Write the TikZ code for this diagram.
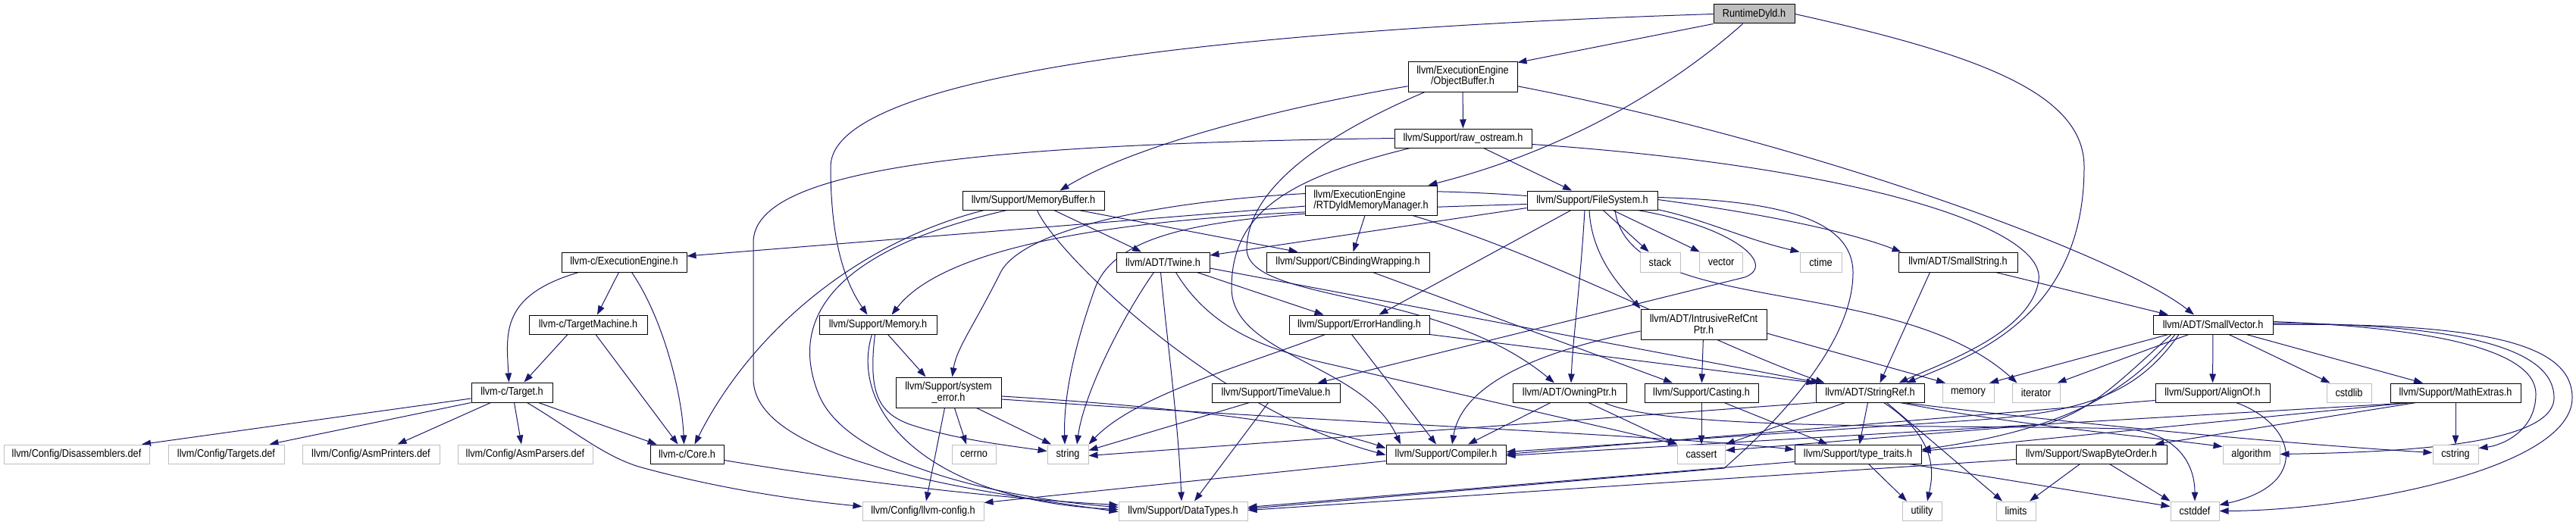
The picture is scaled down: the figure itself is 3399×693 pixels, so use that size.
\documentclass[tikz,border=0pt]{standalone}
\usepackage{fontspec}
\setmainfont{Liberation Sans}[FakeStretch=0.875]
\usetikzlibrary{arrows.meta}
\definecolor{edgec}{HTML}{191970}
\definecolor{extc}{HTML}{BFBFBF}
\definecolor{rootc}{HTML}{BFBFBF}
\pgfdeclarelayer{edgelayer}
\pgfsetlayers{edgelayer,main}
\begin{document}
\begin{tikzpicture}[x=1pt,y=-1pt,
 box/.style={rectangle, inner sep=0pt, minimum height=25pt, font=\fontsize{14.5}{14.5}\selectfont, fill=white},
 doc/.style={box, draw=black, line width=1pt},
 ext/.style={box, draw=extc, line width=1pt},
 rootn/.style={box, draw=black, fill=rootc, line width=1pt},
 dep/.style={draw=edgec, line width=1pt, -{Triangle[length=12pt,width=8.5pt]}},
]
\useasboundingbox (0,0) rectangle (3399,693);
% ---------- nodes ----------
\node[rootn, minimum width=107pt] (root) at (2314.5,18.5) {RuntimeDyld.h};
\node[doc, minimum width=144pt, minimum height=40pt, align=center] (objbuf) at (1930,101) {llvm/ExecutionEngine\\/ObjectBuffer.h};
\node[doc, minimum width=181pt] (rawos) at (1930.5,182.5) {llvm/Support/raw\_ostream.h};
\node[doc, minimum width=174pt, minimum height=39pt, align=left] (rtdyld) at (1809,264.5) {llvm/ExecutionEngine\\/RTDyldMemoryManager.h};
\node[doc, minimum width=172pt] (filesys) at (2101,264.5) {llvm/Support/FileSystem.h};
\node[doc, minimum width=187pt] (membuf) at (1363.5,264.5) {llvm/Support/MemoryBuffer.h};
\node[doc, minimum width=165pt, minimum height=26pt] (cee) at (823.5,346) {llvm-c/ExecutionEngine.h};
\node[doc, minimum width=123pt, minimum height=26pt] (twine) at (1534.5,346) {llvm/ADT/Twine.h};
\node[doc, minimum width=215pt, minimum height=26pt] (cbind) at (1778.5,346) {llvm/Support/CBindingWrapping.h};
\node[ext, minimum width=53pt, minimum height=26pt] (stack) at (2190.5,346) {stack};
\node[ext, minimum width=57pt, minimum height=26pt] (vector) at (2271,346) {vector};
\node[ext, minimum width=55pt, minimum height=26pt] (ctime) at (2402.5,346) {ctime};
\node[doc, minimum width=157pt, minimum height=26pt] (smallstr) at (2583.5,346) {llvm/ADT/SmallString.h};
\node[doc, minimum width=156pt] (tm) at (776,428.5) {llvm-c/TargetMachine.h};
\node[doc, minimum width=155pt] (memory) at (1158.5,428.5) {llvm/Support/Memory.h};
\node[doc, minimum width=185pt] (errh) at (1793.5,428.5) {llvm/Support/ErrorHandling.h};
\node[doc, minimum width=166pt, minimum height=40pt, align=center] (irc) at (2248,428) {llvm/ADT/IntrusiveRefCnt\\Ptr.h};
\node[doc, minimum width=158pt] (smallvec) at (2920,428.5) {llvm/ADT/SmallVector.h};
\node[doc, minimum width=107pt, minimum height=26pt] (target) at (675.5,518) {llvm-c/Target.h};
\node[doc, minimum width=139pt, minimum height=40pt, align=center] (syserr) at (1251.5,518) {llvm/Support/system\\\_error.h};
\node[doc, minimum width=169pt] (timeval) at (1683.5,518.5) {llvm/Support/TimeValue.h};
\node[doc, minimum width=150pt] (owning) at (2071,518.5) {llvm/ADT/OwningPtr.h};
\node[doc, minimum width=150pt] (casting) at (2245,518.5) {llvm/Support/Casting.h};
\node[doc, minimum width=143pt] (stringref) at (2467.5,518.5) {llvm/ADT/StringRef.h};
\node[ext, minimum width=68pt] (memoryh) at (2597,518.5) {memory};
\node[ext, minimum width=63pt] (iterator) at (2686.5,518.5) {iterator};
\node[doc, minimum width=151pt] (alignof) at (2919.5,518.5) {llvm/Support/AlignOf.h};
\node[ext, minimum width=59pt] (cstdlib) at (3099.5,518.5) {cstdlib};
\node[doc, minimum width=172pt] (mathex) at (3240,518.5) {llvm/Support/MathExtras.h};
\node[ext, minimum width=192pt] (disasm) at (101,599.5) {llvm/Config/Disassemblers.def};
\node[ext, minimum width=153pt] (targets) at (298.5,599.5) {llvm/Config/Targets.def};
\node[ext, minimum width=181pt] (asmprint) at (489.5,599.5) {llvm/Config/AsmPrinters.def};
\node[ext, minimum width=178pt] (asmparse) at (693,599.5) {llvm/Config/AsmParsers.def};
\node[doc, minimum width=97pt] (core) at (906.5,599.5) {llvm-c/Core.h};
\node[ext, minimum width=58pt] (cerrno) at (1285,599.5) {cerrno};
\node[ext, minimum width=54pt] (string) at (1409,599.5) {string};
\node[doc, minimum width=158pt] (compiler) at (1908,599.5) {llvm/Support/Compiler.h};
\node[ext, minimum width=63pt] (cassert) at (2245,599.5) {cassert};
\node[doc, minimum width=167pt] (typetraits) at (2451.5,599.5) {llvm/Support/type\_traits.h};
\node[doc, minimum width=199pt] (swap) at (2759.5,599.5) {llvm/Support/SwapByteOrder.h};
\node[ext, minimum width=75pt] (algorithm) at (2970.5,599.5) {algorithm};
\node[ext, minimum width=60pt] (cstring) at (3240,599.5) {cstring};
\node[ext, minimum width=160pt] (llvmconfig) at (1218,674.5) {llvm/Config/llvm-config.h};
\node[ext, minimum width=170pt] (datatypes) at (1561,674.5) {llvm/Support/DataTypes.h};
\node[ext, minimum width=52pt] (utility) at (2536,674.5) {utility};
\node[ext, minimum width=52pt] (limits) at (2660,674.5) {limits};
\node[ext, minimum width=64pt] (cstddef) at (2896,674.5) {cstddef};
% ---------- edges ----------
\begin{pgfonlayer}{edgelayer}
\fill[white] (0,0) rectangle (3399,693);
% RuntimeDyld.h
\draw[dep] (root.south west) -- ([yshift=-2]objbuf.north east);
\draw[dep] ([xshift=-15]root.south) .. controls (2200,120) and (2060,200) .. ([xshift=-12]rtdyld.north east);
\draw[dep] (root.west) .. controls (1600,40) and (1096,100) .. (1096,220) .. controls (1096,330) and (1120,380) .. ([xshift=-14]memory.north);
\draw[dep] (root.east) .. controls (2600,70) and (2750,120) .. (2750,220) .. controls (2750,420) and (2600,470) .. ([xshift=48]stringref.north);
% ObjectBuffer.h
\draw[dep] (objbuf) -- (rawos);
\draw[dep] (objbuf.190) .. controls (1700,140) and (1500,190) .. ([xshift=35]membuf.north);
\draw[dep] ([xshift=-50]objbuf.south) .. controls (1720,190) and (1645,260) .. (1645,330) .. controls (1650,400) and (1900,380) .. ([xshift=-20]owning.north);
\draw[dep] (objbuf.-10) .. controls (2400,190) and (2800,340) .. ([xshift=-25]smallvec.north);
% raw_ostream.h
\draw[dep] (rawos) -- (filesys);
\draw[dep] (rawos.-5) .. controls (2450,220) and (2700,300) .. (2690,370) .. controls (2680,440) and (2560,480) .. ([xshift=38]stringref.north);
\draw[dep] (rawos.west) .. controls (1300,190) and (994,220) .. (994,320) -- (994,500) .. controls (994,610) and (1300,650) .. ([yshift=-1]datatypes.west);
\draw[dep] ([xshift=-70]rawos.south) .. controls (1700,235) and (1625,280) .. (1625,380) .. controls (1625,470) and (1800,480) .. ([xshift=-60]compiler.north);
% RTDyldMemoryManager.h
\draw[dep] (rtdyld.185) -- ([yshift=8]cee.east);
\draw[dep] ([xshift=-8]rtdyld.south) -- ([xshift=7]cbind.north);
\draw[dep] (rtdyld.190) .. controls (1500,290) and (1250,320) .. ([xshift=18]memory.north);
\draw[dep] ([xshift=55]rtdyld.south) .. controls (2050,340) and (2250,450) .. ([xshift=-60]stringref.north);
% MemoryBuffer.h
\draw[dep] (membuf) -- (twine);
\draw[dep] ([xshift=60]membuf.south) -- ([xshift=-66]cbind.north);
\draw[dep] ([xshift=-65]membuf.south) .. controls (1130,320) and (990,440) .. ([xshift=10]core.north);
\draw[dep] ([xshift=-35]membuf.south) .. controls (1100,330) and (1040,420) .. (1080,520) .. controls (1120,620) and (1350,660) .. ([yshift=5]datatypes.west);
\draw[dep] ([xshift=5]membuf.south) .. controls (1390,330) and (1600,540) .. ([yshift=-1]compiler.west);
% FileSystem.h
\draw[dep] (filesys) -- (stack);
\draw[dep] (filesys) -- (vector);
\draw[dep] (filesys.-8) .. controls (2250,290) and (2300,315) .. (ctime.north west);
\draw[dep] ([yshift=1]filesys.east) .. controls (2350,285) and (2450,310) .. ([xshift=-75]smallstr.north);
\draw[dep] ([yshift=-10]filesys.west) -- ([yshift=9]twine.east);
\draw[dep] ([yshift=-5]filesys.west) .. controls (1650,280) and (1480,290) .. (1445,380) .. controls (1420,450) and (1403,520) .. ([xshift=-4]string.north);
\draw[dep] ([yshift=6]filesys.west) .. controls (1700,235) and (1360,280) .. (1320,360) .. controls (1285,430) and (1262,460) .. ([xshift=5]syserr.north);
\draw[dep] ([xshift=-28]filesys.south) -- ([xshift=26]errh.north);
\draw[dep] ([xshift=-10]filesys.south) .. controls (2085,380) and (2075,450) .. ([xshift=2]owning.north);
\draw[dep] ([xshift=-4]filesys.south) .. controls (2100,340) and (2140,380) .. (irc.north west);
\draw[dep] ([xshift=60]filesys.south) .. controls (2290,300) and (2345,350) .. (2302,366) -- ([xshift=55]timeval.north);
\draw[dep] ([xshift=30]filesys.south) .. controls (2150,420) and (2500,360) .. ([xshift=-25]iterator.north);
\draw[dep] ([yshift=4]filesys.east) .. controls (2350,265) and (2445,290) .. (2445,360) .. controls (2445,460) and (2330,570) .. (2275,618) -- ([yshift=3]datatypes.east);
% llvm-c/ExecutionEngine.h
\draw[dep] ([xshift=-60]cee.south) .. controls (660,390) and (668,440) .. ([xshift=-4]target.north);
\draw[dep] ([xshift=-7]cee.south) -- ([xshift=12]tm.north);
\draw[dep] ([xshift=10]cee.south) .. controls (875,420) and (900,520) .. ([xshift=-4]core.north);
% llvm-c/TargetMachine.h
\draw[dep] ([xshift=-27]tm.south) -- ([xshift=16]target.north);
\draw[dep] ([xshift=10]tm.south) -- ([xshift=-12]core.north);
% llvm-c/Target.h
\draw[dep] ([yshift=-8]target.west) -- ([xshift=86]disasm.north);
\draw[dep] (target.south west) -- ([xshift=57]targets.north);
\draw[dep] ([xshift=-28]target.south) -- ([xshift=35]asmprint.north);
\draw[dep] ([xshift=3]target.south) -- ([xshift=-5]asmparse.north);
\draw[dep] ([xshift=35]target.south) -- ([xshift=-40]core.north);
\draw[dep] ([xshift=20]target.south) .. controls (760,570) and (800,605) .. (850,618) .. controls (950,645) and (1050,660) .. ([yshift=6]llvmconfig.west);
% llvm-c/Core.h
\draw[dep] ([yshift=-8]core.east) .. controls (1150,640) and (1350,660) .. ([yshift=8]datatypes.west);
% Twine.h
\draw[dep] ([xshift=-12]twine.south) .. controls (1480,420) and (1430,520) .. ([xshift=12]string.north);
\draw[dep] ([xshift=-3]twine.south) .. controls (1540,450) and (1555,560) .. ([xshift=-2]datatypes.north);
\draw[dep] ([xshift=17]twine.south) .. controls (1600,440) and (1680,460) .. (1730,475) -- (cassert.north west);
\draw[dep] ([xshift=45]twine.south) -- ([xshift=-47]errh.north);
\draw[dep] ([yshift=-8]twine.east) -- ([xshift=-66]stringref.north);
% CBindingWrapping.h
\draw[dep] ([xshift=33]cbind.south) -- ([xshift=-38]casting.north);
% Memory.h
\draw[dep] ([xshift=13]memory.south) -- ([xshift=-30]syserr.north);
\draw[dep] ([xshift=-4]memory.south) .. controls (1145,520) and (1160,545) .. (1200,560) .. controls (1260,580) and (1330,588) .. ([yshift=4]string.west);
\draw[dep] ([xshift=-8]memory.south) .. controls (1120,540) and (1220,660) .. ([yshift=2]datatypes.west);
% ErrorHandling.h
\draw[dep] ([xshift=-45]errh.south) .. controls (1650,480) and (1500,520) .. (string.north east);
\draw[dep] ([xshift=-10]errh.south) -- ([xshift=-13]compiler.north);
\draw[dep] (errh.south east) -- ([xshift=-72]stringref.north);
% IntrusiveRefCntPtr.h
\draw[dep] (irc) -- (casting);
\draw[dep] ([yshift=-9]irc.west) .. controls (2050,460) and (1930,500) .. ([xshift=8]compiler.north);
\draw[dep] ([yshift=-12]irc.east) -- ([xshift=-30]memoryh.north);
% SmallString.h
\draw[dep] ([xshift=-37]smallstr.south) -- ([xshift=13]stringref.north);
\draw[dep] ([xshift=50]smallstr.south) -- ([xshift=-59]smallvec.north);
% SmallVector.h
\draw[dep] (smallvec) -- (alignof);
\draw[dep] ([xshift=21]smallvec.south) -- ([xshift=-25]cstdlib.north);
\draw[dep] ([xshift=44]smallvec.south) -- ([xshift=-43]mathex.north);
\draw[dep] ([yshift=4]smallvec.east) .. controls (3200,432) and (3346,460) .. (3346,520) .. controls (3346,570) and (3300,588) .. ([yshift=8]cstring.east);
\draw[dep] ([yshift=2]smallvec.east) .. controls (3250,428) and (3370,460) .. (3370,525) .. controls (3370,590) and (3150,597) .. (algorithm.east);
\draw[dep] (smallvec.east) .. controls (3300,425) and (3394,460) .. (3394,525) .. controls (3394,620) and (3100,674) .. (cstddef.east);
\draw[dep] ([xshift=-59]smallvec.south) -- ([xshift=28]memoryh.north);
\draw[dep] ([xshift=-32]smallvec.south) -- ([xshift=28]iterator.north);
\draw[dep] ([xshift=-45]smallvec.south) .. controls (2820,520) and (2750,545) .. (2600,555) -- ([yshift=3]compiler.east);
\draw[dep] ([xshift=-55]smallvec.south) .. controls (2790,510) and (2760,540) .. (2700,560) -- ([yshift=5]cassert.east);
\draw[dep] ([xshift=-50]smallvec.south) .. controls (2800,530) and (2700,570) .. ([yshift=6]typetraits.east);
% AlignOf.h
\draw[dep] ([yshift=-10]alignof.west) -- (compiler.east);
\draw[dep] ([xshift=31]alignof.south) .. controls (3030,560) and (3050,640) .. ([yshift=8]cstddef.east);
% MathExtras.h
\draw[dep] (mathex) -- (cstring);
\draw[dep] ([xshift=-52]mathex.south) -- ([xshift=84]swap.north);
\draw[dep] ([xshift=-56]mathex.south) -- ([yshift=-2]compiler.east);
\draw[dep] ([xshift=-60]mathex.south) -- ([yshift=4]typetraits.east);
% system_error.h
\draw[dep] ([xshift=8]syserr.south) -- ([xshift=-10]cerrno.north);
\draw[dep] ([xshift=37]syserr.south) -- ([xshift=-22]string.north);
\draw[dep] ([xshift=-5]syserr.south) -- ([xshift=4]llvmconfig.north);
\draw[dep] ([yshift=-5]syserr.east) .. controls (1600,540) and (1750,565) .. ([yshift=8]compiler.west);
\draw[dep] ([yshift=-9]syserr.east) .. controls (1800,560) and (2200,575) .. ([yshift=6]typetraits.west);
% TimeValue.h
\draw[dep] ([xshift=-35]timeval.south) -- ([yshift=5]string.east);
\draw[dep] ([xshift=-10]timeval.south) -- ([xshift=15]datatypes.north);
% OwningPtr.h
\draw[dep] ([xshift=-25]owning.south) -- ([xshift=29]compiler.north);
\draw[dep] ([xshift=25]owning.south) -- (cassert.north west);
\draw[dep] ([xshift=46]owning.south) .. controls (2200,570) and (2600,560) .. (2800,566) .. controls (2870,569) and (2896,610) .. (cstddef.north);
% Casting.h
\draw[dep] (casting) -- (cassert);
\draw[dep] ([xshift=30]casting.south) -- ([xshift=-40]typetraits.north);
% StringRef.h
\draw[dep] ([xshift=-3]stringref.south) -- ([xshift=2]typetraits.north);
\draw[dep] ([xshift=18]stringref.south) .. controls (2560,580) and (2550,630) .. ([xshift=7]utility.north);
\draw[dep] ([xshift=22]stringref.south) -- ([xshift=-18]limits.north);
\draw[dep] (stringref.south west) -- ([yshift=-2]string.east);
\draw[dep] ([xshift=-33]stringref.south) -- (cassert.north east);
\draw[dep] ([xshift=40]stringref.south) .. controls (2650,560) and (2820,575) .. ([yshift=10]algorithm.west);
\draw[dep] ([xshift=44]stringref.south) .. controls (2700,555) and (3000,585) .. ([yshift=2]cstring.west);
% type_traits.h
\draw[dep] ([xshift=14]typetraits.south) -- ([xshift=-20]utility.north);
\draw[dep] ([xshift=68]typetraits.south) -- ([yshift=6]cstddef.west);
\draw[dep] ([yshift=-10]typetraits.west) -- ([yshift=5]datatypes.east);
% SwapByteOrder.h
\draw[dep] ([xshift=-15]swap.south) -- ([xshift=18]limits.north);
\draw[dep] ([xshift=24]swap.south) -- (cstddef.north west);
\draw[dep] ([yshift=-7]swap.west) -- ([yshift=1]datatypes.east);
% Compiler.h
\draw[dep] ([yshift=-9]compiler.west) -- ([yshift=11]llvmconfig.east);
\end{pgfonlayer}
\end{tikzpicture}
\end{document}
